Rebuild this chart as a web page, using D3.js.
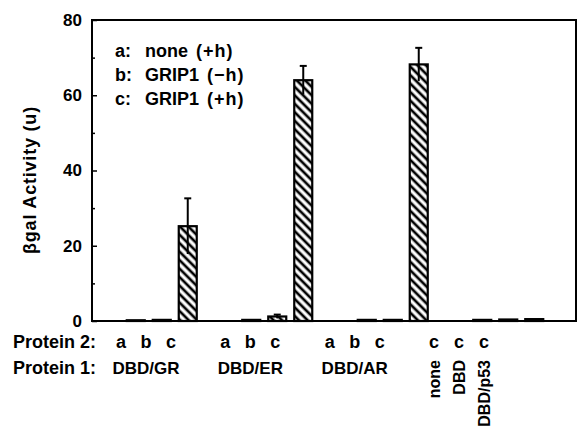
<!DOCTYPE html>
<html>
<head>
<meta charset="utf-8">
<script src="https://cdn.jsdelivr.net/npm/d3@7"></script>
<style>
  body { margin: 0; background: #fff; }
  text { font-family: "Liberation Sans", Arial, sans-serif; font-weight: bold; fill: #000; }
</style>
</head>
<body>
<div id="chart"></div>
<script>
const groups = ["DBD/GR", "DBD/ER", "DBD/AR", "controls"];
const slots = ["a", "b", "c"];
const protein2 = [["a", "b", "c"], ["a", "b", "c"], ["a", "b", "c"], ["c", "c", "c"]];
const controlLabels = ["none", "DBD", "DBD/p53"];
const values = [[0.2, 0.3, 25.2], [0.3, 1.2, 64.0], [0.3, 0.3, 68.2], [0.3, 0.4, 0.5]];
const errors = [[0, 0, 7.4], [0, 0.5, 3.8], [0, 0, 4.4], [0, 0, 0]];
const legendKeys = ["a:", "b:", "c:"];
const legendNames = ["none", "GRIP1", "GRIP1"];
const legendHormone = ["(+h)", "(\u2212h)", "(+h)"];
const majorTicks = [0, 20, 40, 60, 80];
const minorTicks = [10, 30, 50, 70];

const width = 579, height = 428;
const plot = {left: 92, right: 576, top: 20, bottom: 321};

const svg = d3.select("#chart").append("svg")
  .attr("width", width).attr("height", height);

// hatch fill for the bars
const defs = svg.append("defs");
defs.append("pattern")
  .attr("id", "hatch")
  .attr("patternUnits", "userSpaceOnUse")
  .attr("width", 6).attr("height", 6)
  .attr("patternTransform", "rotate(-45)")
  .append("line")
  .attr("x1", 3).attr("y1", -1).attr("x2", 3).attr("y2", 7)
  .attr("stroke", "#000").attr("stroke-width", 2.7);

const yScale = d3.scaleLinear().domain([0, 80]).range([plot.bottom, plot.top]);

// bar positions
const groupX = d3.scaleBand().domain(groups).range([104, 566]);
const slotX = d3.scalePoint().domain(slots).range([-26, 26]);
const barW = 18;

// label positions (labels sit a bit left of the bars in the original)
const labelX = d3.scalePoint().domain(groups).range([146, 459]);
const labelSlot = d3.scalePoint().domain(slots).range([-25, 25]);

const bars = [];
groups.forEach((g, gi) => {
  slots.forEach((s, si) => {
    bars.push({group: g, slot: s, value: values[gi][si], err: errors[gi][si]});
  });
});

const barCx = d => groupX(d.group) + groupX.bandwidth() / 2 + slotX(d.slot);

svg.append("g").selectAll("rect").data(bars).enter()
  .append("rect")
  .attr("x", d => barCx(d) - barW / 2)
  .attr("y", d => yScale(d.value))
  .attr("width", barW)
  .attr("height", d => yScale(0) - yScale(d.value))
  .attr("fill", "url(#hatch)")
  .attr("stroke", "#000")
  .attr("stroke-width", 2.2);

// error bars
const errBars = bars.filter(d => d.err > 0);
const eg = svg.append("g").attr("stroke", "#000").attr("stroke-width", 2);
eg.selectAll("line.v").data(errBars).enter().append("line")
  .attr("class", "v")
  .attr("x1", barCx).attr("x2", barCx)
  .attr("y1", d => yScale(d.value - d.err))
  .attr("y2", d => yScale(d.value + d.err));
eg.selectAll("line.cap").data(errBars).enter().append("line")
  .attr("class", "cap")
  .attr("x1", d => barCx(d) - 3.5).attr("x2", d => barCx(d) + 3.5)
  .attr("y1", d => yScale(d.value + d.err))
  .attr("y2", d => yScale(d.value + d.err));

// frame
svg.append("rect")
  .attr("x", plot.left).attr("y", plot.top)
  .attr("width", plot.right - plot.left).attr("height", plot.bottom - plot.top)
  .attr("fill", "none").attr("stroke", "#000").attr("stroke-width", 2);

// y axis, ticks inward
const yAxis = svg.append("g")
  .attr("transform", `translate(${plot.left},0)`)
  .call(d3.axisLeft(yScale).tickValues(majorTicks).tickSizeInner(-5).tickSizeOuter(0).tickPadding(10));
yAxis.select(".domain").remove();
yAxis.selectAll(".tick line").attr("stroke-width", 1.5);
yAxis.selectAll(".tick text")
  .style("font-family", "'Liberation Sans', Arial, sans-serif")
  .style("font-weight", "bold").attr("font-size", 17);

const yMinor = svg.append("g")
  .attr("transform", `translate(${plot.left},0)`)
  .call(d3.axisLeft(yScale).tickValues(minorTicks).tickSizeInner(-3).tickSizeOuter(0).tickFormat(""));
yMinor.select(".domain").remove();
yMinor.selectAll(".tick line").attr("stroke-width", 1.5);

// y title
svg.append("text")
  .attr("transform", `translate(36,180) rotate(-90)`)
  .attr("text-anchor", "middle")
  .attr("font-size", 18)
  .attr("letter-spacing", 0.8)
  .text("\u03B2gal Activity (u)");

// legend
const legend = svg.append("g");
legendKeys.forEach((k, i) => {
  const y = 57 + i * 24;
  legend.append("text").attr("x", 115).attr("y", y).attr("font-size", 18).text(k);
  const t = legend.append("text").attr("x", 145).attr("y", y).attr("font-size", 18);
  t.append("tspan").text(legendNames[i]);
  t.append("tspan").attr("dx", 8).attr("letter-spacing", 1).text(legendHormone[i]);
});

// bottom labels
svg.append("text").attr("x", 13).attr("y", 348).attr("font-size", 18).text("Protein 2:");
svg.append("text").attr("x", 13).attr("y", 374).attr("font-size", 18).text("Protein 1:");

groups.forEach((g, gi) => {
  protein2[gi].forEach((p, si) => {
    svg.append("text")
      .attr("x", labelX(g) + labelSlot(slots[si]))
      .attr("y", 348)
      .attr("text-anchor", "middle")
      .attr("font-size", 18)
      .text(p);
  });
});

groups.slice(0, 3).forEach(g => {
  svg.append("text")
    .attr("x", labelX(g))
    .attr("y", 374)
    .attr("text-anchor", "middle")
    .attr("font-size", 17)
    .text(g);
});

controlLabels.forEach((c, si) => {
  const x = labelX(groups[3]) + labelSlot(slots[si]) + 6;
  svg.append("text")
    .attr("transform", `translate(${x},360) rotate(-90)`)
    .attr("text-anchor", "end")
    .attr("font-size", 16)
    .text(c);
});
</script>
</body>
</html>
